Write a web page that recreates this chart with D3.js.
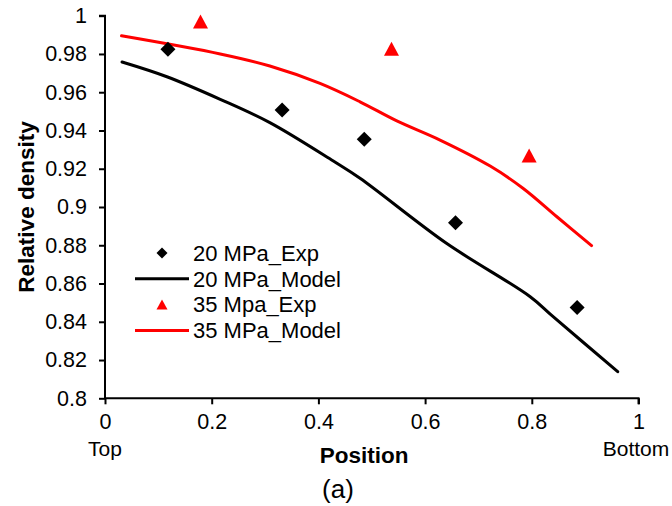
<!DOCTYPE html>
<html><head><meta charset="utf-8">
<script src="https://cdn.jsdelivr.net/npm/d3@7"></script>
<style>body{margin:0;background:#fff}svg{display:block}text{font-family:"Liberation Sans",Arial,sans-serif}</style>
</head><body>
<script>
// ---- data ----
const expX20 = [0.118, 0.332, 0.486, 0.657, 0.885];
const expY20 = [0.9825, 0.9507, 0.9354, 0.8918, 0.8474];
const expX35 = [0.179, 0.537, 0.795];
const expY35 = [0.997, 0.9827, 0.9269];
const modelX20 = [0.032, 0.116, 0.216, 0.309, 0.428, 0.478, 0.640, 0.797, 0.840, 0.961];
const modelY20 = [0.9758, 0.9681, 0.9563, 0.9441, 0.9240, 0.9150, 0.8810, 0.8531, 0.8427, 0.8139];
const modelX35 = [0.031, 0.216, 0.309, 0.403, 0.478, 0.547, 0.628, 0.722, 0.784, 0.847, 0.912];
const modelY35 = [0.9895, 0.9800, 0.9737, 0.9646, 0.9550, 0.9450, 0.9350, 0.9214, 0.9097, 0.8949, 0.8798];
const xTicks = [0, 0.2, 0.4, 0.6, 0.8, 1];
const yTicks = [0.8, 0.82, 0.84, 0.86, 0.88, 0.9, 0.92, 0.94, 0.96, 0.98, 1];
const legendLabels = ["20 MPa_Exp", "20 MPa_Model", "35 Mpa_Exp", "35 MPa_Model"];

const W = 672, H = 506;
const svg = d3.select("body").append("svg").attr("width", W).attr("height", H);
const x = d3.scaleLinear().domain([0, 1]).range([105, 638.5]);
const y = d3.scaleLinear().domain([0.8, 1]).range([398.3, 15.7]);

// axes
const yAxis = d3.axisLeft(y).tickValues(yTicks).tickSize(6).tickPadding(12)
  .tickFormat(d => d3.format("")(+d.toFixed(2)));
const gy = svg.append("g").attr("transform", `translate(${x(0)},0)`).call(yAxis);
const xAxis = d3.axisBottom(x).tickValues(xTicks).tickSize(6).tickPadding(9)
  .tickFormat(d => d3.format("")(+d.toFixed(1)));
const gx = svg.append("g").attr("transform", `translate(0,${y(0.8)})`).call(xAxis);
[gx, gy].forEach(g => {
  g.select(".domain").attr("stroke", "#000").attr("stroke-width", 2);
  g.selectAll(".tick line").attr("stroke", "#000").attr("stroke-width", 2);
  g.selectAll(".tick text").attr("font-size", 21.5).attr("fill", "#000")
    .style("font-family", '"Liberation Sans",Arial,sans-serif');
});
gy.select(".domain").attr("d", `M0,${y(0.8)}V${y(1)}H-6`);
gx.select(".domain").attr("d", `M${x(0)},0H${x(1)}V6`);

// lines
const line = d3.line().x(d => x(d[0])).y(d => y(d[1])).curve(d3.curveCatmullRom.alpha(0.5));
svg.append("path").datum(d3.zip(modelX20, modelY20)).attr("d", line)
  .attr("fill", "none").attr("stroke", "#000").attr("stroke-width", 3).attr("stroke-linecap", "round");
svg.append("path").datum(d3.zip(modelX35, modelY35)).attr("d", line)
  .attr("fill", "none").attr("stroke", "#ff0000").attr("stroke-width", 3).attr("stroke-linecap", "round");

// markers
const diamond = s => `M0,${-s}L${s},0L0,${s}L${-s},0Z`;
const tri = (w, h) => `M0,${-h/2}L${w/2},${h/2}L${-w/2},${h/2}Z`;
svg.selectAll(".d20").data(d3.zip(expX20, expY20)).join("path")
  .attr("transform", d => `translate(${x(d[0])},${y(d[1])})`).attr("d", diamond(7.5)).attr("fill", "#000");
svg.selectAll(".t35").data(d3.zip(expX35, expY35)).join("path")
  .attr("transform", d => `translate(${x(d[0])},${y(d[1])})`).attr("d", tri(15, 14)).attr("fill", "#ff0000");

// legend
const lg = svg.append("g");
legendLabels.forEach((lab, i) => {
  const cy = 253 + i * 25.8;
  if (i === 0) lg.append("path").attr("transform", `translate(162,${cy})`).attr("d", diamond(5.5)).attr("fill", "#000");
  if (i === 2) lg.append("path").attr("transform", `translate(162,${cy})`).attr("d", tri(11, 10)).attr("fill", "#ff0000");
  if (i === 1 || i === 3) lg.append("line").attr("x1", 135).attr("x2", 189).attr("y1", cy).attr("y2", cy)
    .attr("stroke", i === 1 ? "#000" : "#ff0000").attr("stroke-width", 3);
  lg.append("text").attr("x", 193).attr("y", cy).attr("dy", "0.35em").attr("font-size", 22).text(lab);
});

// titles
svg.append("text").attr("transform", `translate(34,${(y(0.8)+y(1))/2}) rotate(-90)`)
  .attr("text-anchor", "middle").attr("font-size", 22.5).attr("font-weight", "bold").text("Relative density");
svg.append("text").attr("x", 364).attr("y", 463).attr("text-anchor", "middle")
  .attr("font-size", 22.5).attr("font-weight", "bold").text("Position");
svg.append("text").attr("x", x(0)).attr("y", 456).attr("text-anchor", "middle").attr("font-size", 21).text("Top");
svg.append("text").attr("x", 636).attr("y", 456).attr("text-anchor", "middle").attr("font-size", 21).text("Bottom");
svg.append("text").attr("x", 338).attr("y", 498).attr("text-anchor", "middle").attr("font-size", 26).text("(a)");
</script>
</body></html>
